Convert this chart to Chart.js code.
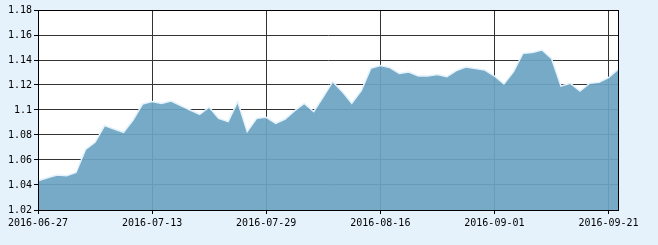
<!DOCTYPE html>
<html>
<head>
<meta charset="utf-8">
<script src="https://cdn.jsdelivr.net/npm/chart.js@4.4.1/dist/chart.umd.min.js"></script>
<style>
html,body{margin:0;padding:0;background:#e6f2fb;}
#wrap{width:658px;height:245px;}
</style>
</head>
<body>
<div id="wrap"><canvas id="c" width="658" height="245"></canvas></div>
<script>
const dates = ["2016-06-27","2016-06-28","2016-06-29","2016-06-30","2016-07-01","2016-07-04","2016-07-05","2016-07-06","2016-07-07","2016-07-08",
"2016-07-11","2016-07-12","2016-07-13","2016-07-14","2016-07-15","2016-07-18","2016-07-19","2016-07-20","2016-07-21","2016-07-22",
"2016-07-25","2016-07-26","2016-07-27","2016-07-28","2016-07-29","2016-08-01","2016-08-02","2016-08-03","2016-08-04","2016-08-05",
"2016-08-08","2016-08-09","2016-08-10","2016-08-11","2016-08-12","2016-08-15","2016-08-16","2016-08-17","2016-08-18","2016-08-19",
"2016-08-22","2016-08-23","2016-08-24","2016-08-25","2016-08-26","2016-08-29","2016-08-30","2016-08-31","2016-09-01","2016-09-02",
"2016-09-05","2016-09-06","2016-09-07","2016-09-08","2016-09-09","2016-09-12","2016-09-13","2016-09-14","2016-09-19","2016-09-20",
"2016-09-21","2016-09-22"];
const navValues = [1.0434,1.0458,1.0480,1.0475,1.0500,1.0685,1.0742,1.0875,1.0848,1.0822,
1.0920,1.1048,1.1067,1.1053,1.1072,1.1035,1.1000,1.0965,1.1022,1.0933,
1.0907,1.1067,1.0827,1.0933,1.0941,1.0893,1.0928,1.0995,1.1053,1.0987,
1.1105,1.1227,1.1147,1.1053,1.1155,1.1333,1.1355,1.1339,1.1293,1.1304,
1.1272,1.1272,1.1283,1.1267,1.1315,1.1344,1.1331,1.1320,1.1272,1.1208,
1.1305,1.1453,1.1459,1.1480,1.1413,1.1192,1.1213,1.1152,1.1213,1.1221,
1.1259,1.1325];
const yTicks = [1.02,1.04,1.06,1.08,1.10,1.12,1.14,1.16,1.18];
const xTickStep = 12;

const plotFrame = {
  id:'plotFrame',
  beforeDraw(chart){
    const {ctx, chartArea:a} = chart;
    ctx.save();
    ctx.fillStyle = '#ffffff';
    ctx.fillRect(a.left, a.top, a.right-a.left, a.bottom-a.top);
    ctx.restore();
  },
  afterDraw(chart){
    const {ctx, chartArea:a} = chart;
    ctx.save();
    ctx.strokeStyle = '#000000';
    ctx.lineWidth = 1;
    ctx.strokeRect(Math.round(a.left)+0.5, Math.round(a.top)+0.5, Math.round(a.right-a.left), Math.round(a.bottom-a.top));
    ctx.restore();
  }
};

new Chart(document.getElementById('c'), {
  type:'line',
  data:{
    labels:dates,
    datasets:[{
      data:navValues,
      fill:'start',
      backgroundColor:'rgba(109,164,195,0.93)',
      borderColor:'#e2f1fb',
      borderWidth:1.5,
      pointRadius:0,
      tension:0
    }]
  },
  options:{
    responsive:false,
    animation:false,
    devicePixelRatio:1,
    layout:{padding:{left:0,right:40,top:10,bottom:0}},
    plugins:{legend:{display:false},tooltip:{enabled:false}},
    scales:{
      x:{
        type:'category',
        offset:false,
        border:{display:true,color:'#000',width:1},
        grid:{color:'#333333',lineWidth:1,tickLength:4,drawTicks:true,tickColor:'#000'},
        afterBuildTicks(scale){ scale.ticks = scale.ticks.filter(t => t.value % xTickStep === 0); },
        afterFit(scale){ scale.height = 35; },
        ticks:{
          autoSkip:false,maxRotation:0,padding:3,color:'#000',
          font:{family:'"DejaVu Sans Mono", monospace',size:10},
          callback(v){ return dates[v]; }
        }
      },
      y:{
        min:1.02,max:1.18,
        border:{display:true,color:'#000',width:1},
        grid:{color:'#333333',lineWidth:1,tickLength:4,drawTicks:true,tickColor:'#000'},
        afterBuildTicks(scale){ scale.ticks = yTicks.map(v=>({value:v})); },
        afterFit(scale){ scale.width = 38; },
        ticks:{
          padding:2,color:'#000',
          font:{family:'"DejaVu Sans Mono", monospace',size:10},
          callback(v){ return String(parseFloat(Number(v).toFixed(2))); }
        }
      }
    }
  },
  plugins:[plotFrame]
});
</script>
</body>
</html>
